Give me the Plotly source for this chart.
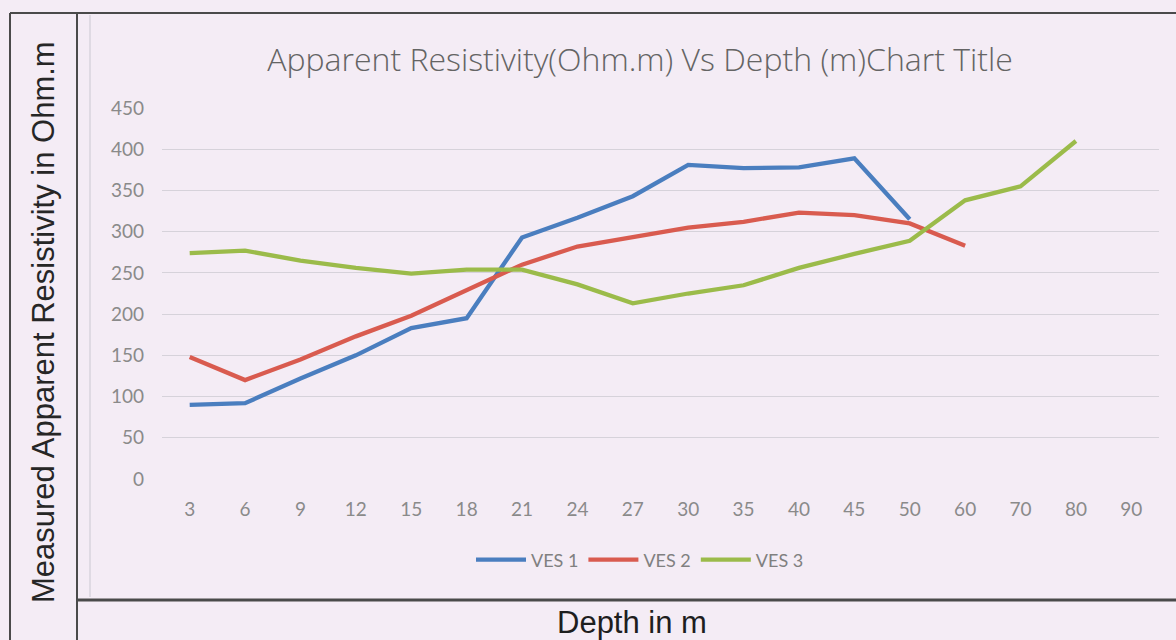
import plotly.graph_objects as go

# Depth categories (m) and apparent resistivity readings (Ohm.m)
depths = ["3", "6", "9", "12", "15", "18", "21", "24", "27", "30",
          "35", "40", "45", "50", "60", "70", "80", "90"]

ves1 = [90, 92, 122, 150, 183, 195, 293, 317, 343, 381, 377, 378, 389, 315]
ves2 = [148, 120, 145, 173, 198, 229, 260, 282, 293, 305, 312, 323, 320, 310, 283]
ves3 = [274, 277, 265, 256, 249, 254, 254, 236, 213, 225, 235, 256, 273, 289, 338, 355, 410]

series = [("VES 1", ves1, "#4a7ebf"),
          ("VES 2", ves2, "#d95b4f"),
          ("VES 3", ves3, "#9bbb4a")]

W, H = 1176, 640
BG = "#f4ecf5"


def px(x):
    return x / W


def py(y):
    return 1 - y / H


fig = go.Figure()
for name, vals, color in series:
    fig.add_trace(go.Scatter(
        x=depths[:len(vals)], y=vals, name=name, mode="lines",
        line=dict(color=color, width=4.3),
    ))

tick_font = dict(family="Lato", size=19, color="#8a8a8a")

fig.update_layout(
    width=W, height=H,
    margin=dict(l=0, r=0, t=0, b=0, autoexpand=False),
    paper_bgcolor=BG, plot_bgcolor=BG,
    showlegend=True,
    title=dict(
        text="Apparent Resistivity(Ohm.m) Vs Depth (m)Chart Title",
        x=px(640), y=py(60), xanchor="center", yanchor="middle",
        font=dict(family="Open Sans", size=32, weight=300, color="#646464"),
    ),
    xaxis=dict(
        type="category", categoryorder="array", categoryarray=depths,
        range=[-0.5, len(depths) - 0.5],
        domain=[px(162), px(1159)],
        showgrid=False, zeroline=False, showline=False, ticks="",
        tickfont=tick_font, ticklabelstandoff=17,
    ),
    yaxis=dict(
        range=[0, 450], tickvals=list(range(0, 451, 50)),
        domain=[py(479), py(108)],
        showgrid=True, gridcolor="#d6d2da", gridwidth=1.3,
        zeroline=False, showline=False, ticks="",
        tickfont=tick_font, ticklabelstandoff=17,
    ),
    legend=dict(
        orientation="h", x=px(640), y=py(560),
        xanchor="center", yanchor="middle",
        font=dict(family="Lato", size=18, color="#808080"),
        bgcolor="rgba(0,0,0,0)", itemwidth=50,
    ),
)

# Outer frame: title column on the left, caption row at the bottom
frame = "#4a4a4a"
lines = [
    ((10, 13), (W, 13), 2),
    ((10, 13), (10, H), 2),
    ((77, 13), (77, H), 2),
    ((77, 600), (W, 600), 3),
]
for (x0, y0), (x1, y1), w in lines:
    fig.add_shape(type="line", xref="paper", yref="paper",
                  x0=px(x0), y0=py(y0), x1=px(x1), y1=py(y1),
                  line=dict(color=frame, width=w))
# faint chart-area border
fig.add_shape(type="line", xref="paper", yref="paper",
              x0=px(90), y0=py(15), x1=px(90), y1=py(597),
              line=dict(color="#d9d5dc", width=1.5))

fig.add_annotation(
    text="Measured Apparent Resistivity in Ohm.m",
    xref="paper", yref="paper", x=px(43), y=py(322),
    xanchor="center", yanchor="middle", textangle=-90, showarrow=False,
    font=dict(family="Liberation Sans", size=31, color="#262626"),
)
fig.add_annotation(
    text="Depth in m",
    xref="paper", yref="paper", x=px(632), y=py(622),
    xanchor="center", yanchor="middle", showarrow=False,
    font=dict(family="Liberation Sans", size=31, color="#1e1e1e"),
)

fig.write_html("out.html")
